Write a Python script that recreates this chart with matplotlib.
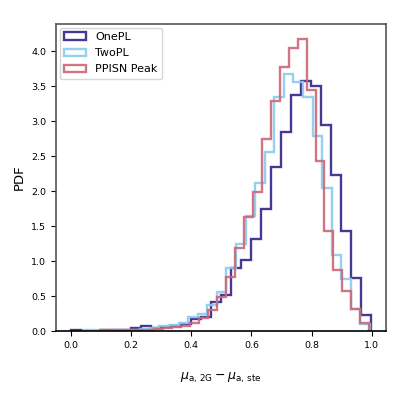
import numpy as np
import matplotlib
matplotlib.use('Agg')
import matplotlib.pyplot as plt

# histogram ranges (each model histogrammed with 30 bins over its own range)
n_bins = 30
range_onepl = (0.0, 0.997)
range_twopl = (0.04, 0.994)
range_ppisn = (0.098, 0.992)

# densities
onepl = [0.01, 0.0, 0.0, 0.01, 0.01, 0.02, 0.04, 0.075, 0.05, 0.06,
         0.07, 0.10, 0.18, 0.20, 0.41, 0.52, 0.90, 1.01, 1.31, 1.74,
         2.35, 2.85, 3.37, 3.58, 3.50, 2.94, 2.23, 1.43, 0.76, 0.23]
twopl = [0.01, 0.01, 0.0, 0.01, 0.02, 0.02, 0.03, 0.05, 0.07, 0.09,
         0.12, 0.20, 0.24, 0.37, 0.56, 0.90, 1.25, 1.65, 2.12, 2.56,
         3.34, 3.67, 3.56, 3.34, 2.79, 2.04, 1.09, 0.74, 0.31, 0.10]
ppisn = [0.01, 0.01, 0.01, 0.02, 0.02, 0.02, 0.03, 0.04, 0.06, 0.08,
         0.12, 0.19, 0.30, 0.49, 0.77, 1.19, 1.63, 1.99, 2.74, 3.29,
         3.77, 4.04, 4.18, 3.45, 2.43, 1.43, 0.88, 0.58, 0.31, 0.11]

labels = ['OnePL', 'TwoPL', 'PPISN Peak']
colors = ['#332288', '#88CCEE', '#CC6677']

fig = plt.figure(figsize=(3.99, 3.99), dpi=100)
ax = fig.add_axes([0.140, 0.170, 0.827, 0.770])

for vals, rng, lab, c in zip([onepl, twopl, ppisn],
                             [range_onepl, range_twopl, range_ppisn],
                             labels, colors):
    edges = np.linspace(rng[0], rng[1], n_bins + 1)
    ax.hist(edges[:-1], bins=edges, weights=vals, histtype='step',
            color=c, lw=1.7, label=lab, alpha=0.9)

ax.set_ylim(bottom=0)
ax.set_xticks([0.0, 0.2, 0.4, 0.6, 0.8, 1.0])
ax.set_yticks(np.arange(0, 4.01, 0.5))
ax.tick_params(labelsize=6.8, length=3.5, width=0.8)
for s in ax.spines.values():
    s.set_color('#555555')
    s.set_linewidth(1.2)
ax.spines['bottom'].set_color('black')

ax.set_ylabel('PDF', fontsize=9.5, labelpad=3.5)
ax.set_xlabel(r'$\mu_{\rm a,\,2G} - \mu_{\rm a,\,ste}$', fontsize=9, labelpad=15)
ax.legend(loc='upper left', fontsize=8, handlelength=2.0, borderaxespad=0.35,
          labelspacing=0.55)

fig.savefig('out.png', dpi=100)
